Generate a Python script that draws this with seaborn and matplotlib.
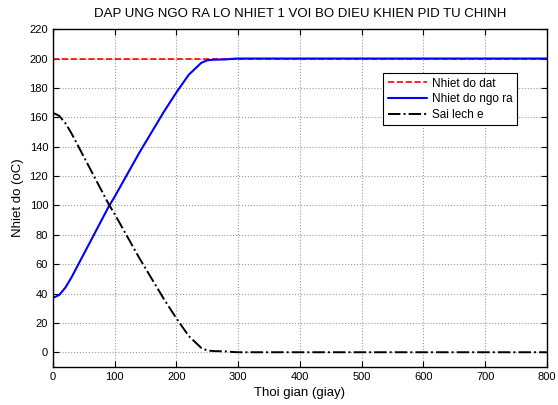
import numpy as np
import pandas as pd
import matplotlib
matplotlib.use("Agg")
import matplotlib.pyplot as plt
import seaborn as sns

# Data
time_s = [0, 10, 20, 30, 40, 50, 60, 70, 80, 90, 100, 120, 140, 160, 180,
          200, 220, 240, 250, 260, 280, 290, 300, 800]
setpoint = [200] * len(time_s)
output = [37, 39, 44, 51, 59, 67, 75, 83, 91, 99, 106, 121, 136, 150, 164,
          177, 189, 197, 198.8, 199.2, 199.4, 199.8, 200, 200]
error = [163, 161, 156, 149, 141, 133, 125, 117, 109, 101, 94, 79, 64, 50, 36,
         23, 11, 3, 1.2, 0.8, 0.6, 0.2, 0, 0]

df = pd.DataFrame({"t": time_s, "setpoint": setpoint, "output": output, "error": error})

sns.set_style("ticks")
plt.rcParams['font.family'] = ['Liberation Sans', 'DejaVu Sans']
plt.rcParams['text.color'] = 'black'
plt.rcParams['axes.labelcolor'] = 'black'
plt.rcParams['xtick.color'] = 'black'
plt.rcParams['ytick.color'] = 'black'

fig = plt.figure(figsize=(5.58, 4.05), dpi=100)
ax = fig.add_axes([0.095, 0.094, 0.885, 0.834])

sns.lineplot(data=df, x="t", y="setpoint", ax=ax, color="red", linestyle="--",
             linewidth=1.2, label="Nhiet do dat")
sns.lineplot(data=df, x="t", y="output", ax=ax, color="blue", linestyle="-",
             linewidth=1.5, label="Nhiet do ngo ra")
sns.lineplot(data=df, x="t", y="error", ax=ax, color="black", linestyle="-.",
             linewidth=1.4, label="Sai lech e")

ax.set_xlim(0, 800)
ax.set_ylim(-10, 220)
ax.set_xticks(np.arange(0, 801, 100))
ax.set_yticks(np.arange(0, 221, 20))
ax.grid(True, color="#9a9a9a", linestyle=":", linewidth=0.8)
ax.tick_params(direction="in", top=True, right=True, labelsize=8, length=4, color="black")
for s in ax.spines.values():
    s.set_color("black")
    s.set_linewidth(1.0)

ax.set_title("DAP UNG NGO RA LO NHIET 1 VOI BO DIEU KHIEN PID TU CHINH",
             fontsize=9.5, pad=9, color="black")
ax.set_xlabel("Thoi gian (giay)", fontsize=9.5)
ax.set_ylabel("Nhiet do (oC)", fontsize=9.5)

leg = ax.legend(loc="upper right", bbox_to_anchor=(0.952, 0.888), fontsize=8.5,
                frameon=True, fancybox=False, framealpha=1, edgecolor="black",
                borderpad=0.4, handlelength=3.3, labelspacing=0.3, handletextpad=0.4)
leg.get_frame().set_linewidth(0.8)

fig.savefig("out.png", dpi=100)
